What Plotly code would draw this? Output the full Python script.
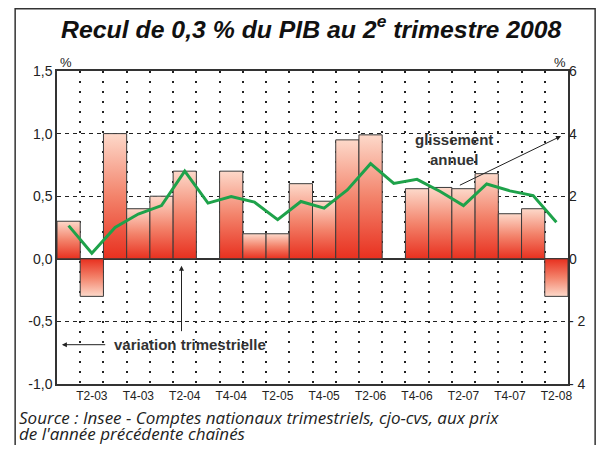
import plotly.graph_objects as go

quarters = ["T1-03", "T2-03", "T3-03", "T4-03", "T1-04", "T2-04", "T3-04", "T4-04",
            "T1-05", "T2-05", "T3-05", "T4-05", "T1-06", "T2-06", "T3-06", "T4-06",
            "T1-07", "T2-07", "T3-07", "T4-07", "T1-08", "T2-08"]
variation = [0.3, -0.3, 1.0, 0.4, 0.5, 0.7, 0.0, 0.7, 0.2, 0.2, 0.6, 0.46,
             0.95, 0.99, 0.0, 0.56, 0.57, 0.56, 0.68, 0.36, 0.4, -0.3]
glissement = [1.06, 0.18, 1.0, 1.43, 1.7, 2.8, 1.78, 1.99, 1.81, 1.25, 1.83, 1.62,
              2.2, 3.04, 2.41, 2.54, 2.15, 1.7, 2.39, 2.17, 2.02, 1.17]
left_ticks = [-1.0, -0.5, 0.0, 0.5, 1.0, 1.5]
left_labels = ["-1,0", "-0,5", "0,0", "0,5", "1,0", "1,5"]
right_ticks = [-4, -2, 0, 2, 4, 6]
right_labels = ["- 4", "- 2", "0", "2", "4", "6"]
source_lines = ["Source : Insee - Comptes nationaux trimestriels, cjo-cvs, aux prix",
                "de l'année précédente chaînés"]

x_idx = list(range(len(quarters)))
tick_pos = x_idx[1::2]
tick_text = quarters[1::2]

fig = go.Figure()

scale = [[0, "#e8301f"], [0.5, "#f3836b"], [1, "#fdd9ca"]]
for i, v in zip(x_idx, variation):
    if v == 0:
        continue
    fig.add_trace(go.Scatter(
        x=[i - 0.5, i - 0.5, i + 0.5, i + 0.5, i - 0.5],
        y=[0, v, v, 0, 0],
        mode="lines", fill="toself",
        fillgradient=dict(type="vertical", colorscale=scale, start=0, stop=v),
        line=dict(color="#3a3a3a", width=1),
        hoverinfo="skip", showlegend=False,
    ))

fig.add_trace(go.Scatter(
    x=x_idx, y=glissement, yaxis="y2", mode="lines",
    line=dict(color="#1ea24a", width=3),
    showlegend=False,
))

font_main = "Liberation Sans, Arial, sans-serif"
fig.update_layout(
    width=590, height=437,
    margin=dict(l=49, r=28, t=63, b=61),
    paper_bgcolor="white", plot_bgcolor="white",
    font=dict(family=font_main, size=13, color="#222"),
    xaxis=dict(
        range=[-0.5, len(quarters) - 0.5],
        tickmode="array", tickvals=tick_pos, ticktext=tick_text,
        showgrid=False, zeroline=False,
        showline=True, mirror=True, linecolor="#333", linewidth=1.5,
        ticks="", tickfont=dict(size=12),
        minor=dict(tickmode="linear", tick0=0.5, dtick=1, showgrid=True,
                   gridcolor="#222", gridwidth=1.5, griddash="2px,8px", ticks=""),
    ),
    yaxis=dict(
        range=[-1.0, 1.5],
        tickmode="array", tickvals=left_ticks, ticktext=left_labels,
        showgrid=True, gridcolor="#222", gridwidth=1.2, griddash="4px,4px",
        zeroline=True, zerolinecolor="#333", zerolinewidth=1.5,
        showline=True, mirror=True, linecolor="#333", linewidth=1.5,
        ticks="", tickfont=dict(size=14),
    ),
    yaxis2=dict(
        range=[-4, 6], overlaying="y", side="right",
        tickmode="array", tickvals=right_ticks, ticktext=right_labels,
        showgrid=False, zeroline=False, showline=False,
        ticks="", tickfont=dict(size=14),
    ),
    title=dict(
        text="Recul de 0,3 % du PIB au 2<sup>e</sup> trimestre 2008",
        x=0.514, xanchor="center", y=0.952, yanchor="middle",
        font=dict(family=font_main, size=24.8, color="#111", weight="bold", style="italic"),
    ),
)

fig.add_annotation(xref="paper", yref="paper", x=0.002, y=1.0575, text="%",
                   showarrow=False, font=dict(size=13))
fig.add_annotation(xref="paper", yref="paper", x=1.0, y=1.0575, text="%",
                   showarrow=False, font=dict(size=13))

# glissement annuel label and arrow
fig.add_annotation(x=16.6, y=0.87, text="<b>glissement<br>annuel</b>", showarrow=False,
                   font=dict(size=15, color="#333"))
fig.add_annotation(x=21.2, y=0.98, ax=16.78, ay=0.582, axref="x", ayref="y",
                   text="", showarrow=True, arrowhead=2, arrowsize=1, arrowwidth=1,
                   arrowcolor="#222")

# variation trimestrielle label and arrows
fig.add_annotation(x=1.85, y=-0.686, xanchor="left", text="<b>variation trimestrielle</b>",
                   showarrow=False, font=dict(size=15, color="#333"))
fig.add_annotation(x=-0.29, y=-0.686, ax=1.64, ay=-0.686, axref="x", ayref="y",
                   text="", showarrow=True, arrowhead=2, arrowsize=1, arrowwidth=1,
                   arrowcolor="#222")
fig.add_annotation(x=4.86, y=-0.056, ax=4.86, ay=-0.59, axref="x", ayref="y",
                   text="", showarrow=True, arrowhead=2, arrowsize=1, arrowwidth=1,
                   arrowcolor="#222")

# source (two separate lines for tight leading)
for line, yv in zip(source_lines, [-0.1086, -0.1597]):
    fig.add_annotation(xref="paper", yref="paper", x=-0.076, y=yv, xanchor="left",
                       yanchor="middle", align="left", text="<i>" + line + "</i>",
                       showarrow=False, borderpad=0,
                       font=dict(family="Open Sans, Noto Sans, sans-serif", size=17,
                                 color="#222"))

# outer frame
fig.add_shape(type="rect", xref="paper", yref="paper",
              x0=-0.0819, x1=1.0531, y0=-0.3, y1=1.1989,
              line=dict(color="#333", width=1.5), layer="below")

fig.write_html("out.html")
